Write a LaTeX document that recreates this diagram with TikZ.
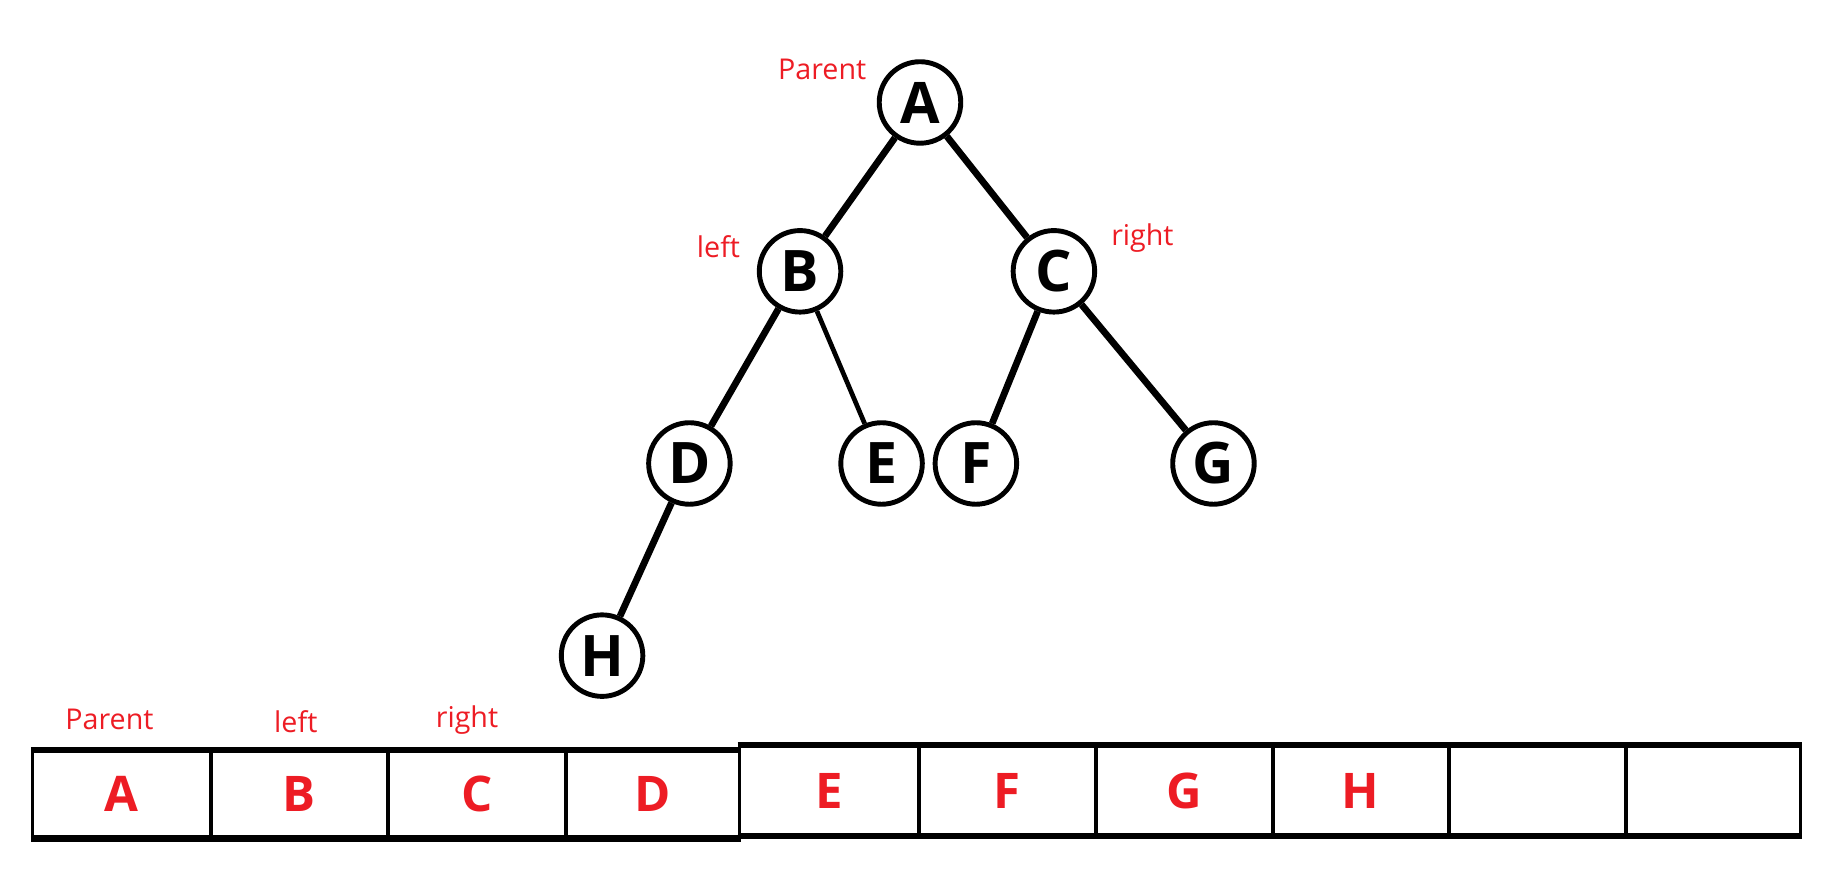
\documentclass[tikz,border=0pt]{standalone}
\usepackage{fontspec}
\setmainfont{Open Sans}
\definecolor{myred}{RGB}{237,28,36}
\begin{document}
\begin{tikzpicture}[x=0.02cm,y=-0.02cm,
  tn/.style={circle,draw,line width=2.4pt,minimum size=70*0.02cm,inner sep=0pt,font=\fontsize{28}{30}\selectfont\bfseries},
  edge/.style={line width=3.3pt},
  lab/.style={text=myred,font=\fontsize{14}{16}\selectfont},
  cell/.style={draw,line width=1.8pt,minimum height=74*0.02cm,inner sep=0pt,text=myred,font=\fontsize{24}{26}\selectfont\bfseries}]
\useasboundingbox (0,0) rectangle (1568,759);
\node[tn] (A) at (790,88) {A};
\node[tn] (B) at (687,233) {B};
\node[tn] (C) at (905,233) {C};
\node[tn] (D) at (592,398) {D};
\node[tn] (E) at (757,398) {E};
\node[tn] (F) at (838,398) {F};
\node[tn] (G) at (1042,398) {G};
\node[tn] (H) at (517,563) {H};
\draw[edge] (A)--(B); \draw[edge] (A)--(C);
\draw[edge] (B)--(D); \draw[line width=2.3pt] (B)--(E);
\draw[edge] (C)--(F); \draw[edge] (C)--(G);
\draw[edge] (D)--(H);
\node[lab] (lp) at (706,60) {Parent};
\node[lab] (ll) at (617,212) {left};
\node[lab] (lr) at (981,204) {right};
\node[lab] (ap) at (94,618) {Parent};
\node[lab] (al) at (254,620) {left};
\node[lab] (ar) at (401,618) {right};
\foreach \a/\b/\t/\n in {28/181/A/c1,181/333/B/c2,333/486/C/c3,486/635/D/c4}{
  \node[cell,minimum width=(\b-\a)*0.02cm] (\n) at ({(\a+\b)/2},682) {\t};}
\foreach \a/\b/\t/\n in {635/789/E/c5,789/941/F/c6,941/1093/G/c7,1093/1244/H/c8,1244/1396/{}/c9,1396/1546/{}/c10}{
  \node[cell,minimum width=(\b-\a)*0.02cm,minimum height=76*0.02cm] (\n) at ({(\a+\b)/2},679) {\t};}
\draw[line width=2.6pt] (c1.north west) -- (c4.north east) (c1.south west) -- (c4.south east);
\draw[line width=2.6pt] (c5.north west) -- (c10.north east) (c5.south west) -- (c10.south east);
\end{tikzpicture}
\end{document}
